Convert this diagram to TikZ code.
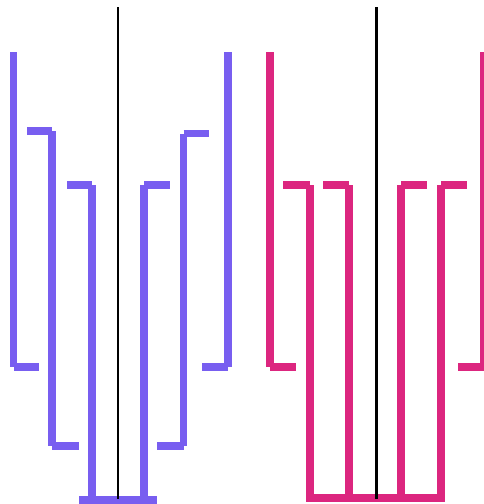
\documentclass[tikz,border=0pt]{standalone}
\usepackage{xcolor}
\usepackage{tikz}
\definecolor{leftviolet}{HTML}{785EF0}
\definecolor{rightmagenta}{HTML}{DC267F}
\tikzset{seg/.style={line width=7.6pt,line cap=butt}, axisline/.style={line width=2.4pt,black}}

\begin{document}
\begin{tikzpicture}[x=1pt,y=-1pt]
 \useasboundingbox (0,0) rectangle (483,504);
 % left group
 \foreach \x/\a/\b in {13.5/52/367,52/131/446,92/185/500,144/185/500,183.5/133.5/446,228/52/367}{\draw[seg,leftviolet] (\x,\a) -- (\x,\b);}
 \foreach \a/\b/\y in {13.5/39/367,27/52/131,52/79/446,67/92/185,79/157/500,144/170/185,183.5/209/133.5,157/183.5/446,202/228/367}{\draw[seg,leftviolet] (\a,\y) -- (\b,\y);}
 % right group
 \foreach \x/\a/\b in {270/52/367,310/185/498,349/185/498,401/185/498,441/185/498,484/52/367}{\draw[seg,rightmagenta] (\x,\a) -- (\x,\b);}
 \foreach \a/\b/\y in {270/296/367,283/310/185,323/349/185,401/427/185,441/467/185,458/484/367,306/445/498}{\draw[seg,rightmagenta] (\a,\y) -- (\b,\y);}
 % split lines
 \draw[axisline] (118,7) -- (118,499);
 \draw[axisline] (376.5,7) -- (376.5,499);
\end{tikzpicture}
\end{document}
